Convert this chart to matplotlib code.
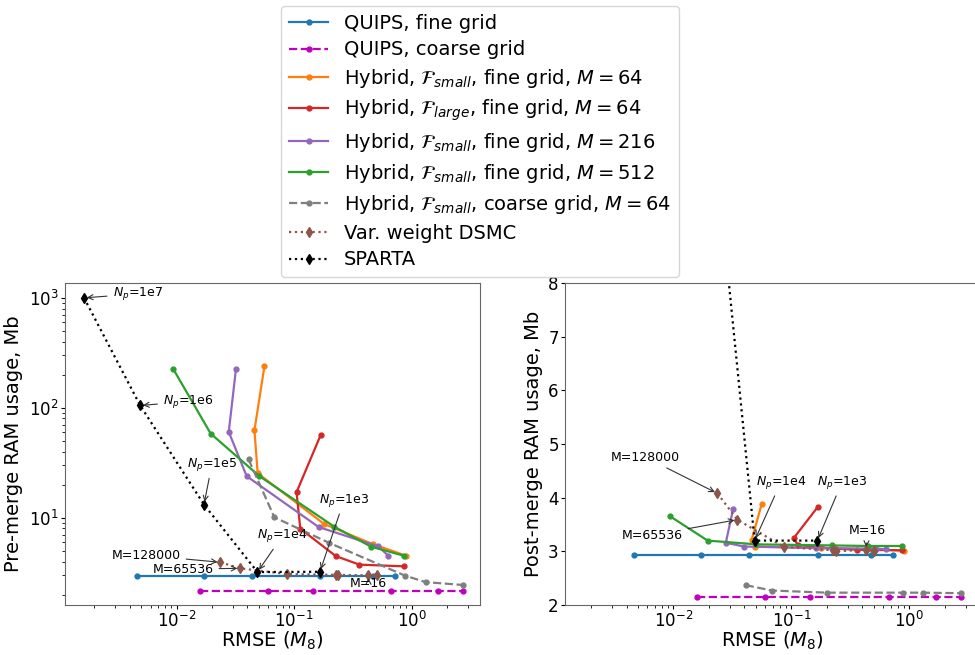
import matplotlib
matplotlib.use("Agg")
import matplotlib.pyplot as plt
import numpy as np

# ---------------- data ----------------
quips_fine_x = [0.0046, 0.0172, 0.0435, 0.167, 0.47, 0.726]
quips_fine_pre = [2.94, 2.94, 2.94, 2.94, 2.94, 2.94]
quips_fine_post = [2.93, 2.93, 2.93, 2.93, 2.93, 2.93]

quips_coarse_x = [0.0157, 0.060, 0.144, 0.67, 1.69, 2.74]
quips_coarse_pre = [2.17, 2.17, 2.17, 2.17, 2.17, 2.17]
quips_coarse_post = [2.15, 2.15, 2.15, 2.15, 2.15, 2.15]

hyb_s64_x = [0.056, 0.046, 0.049, 0.18, 0.47, 0.90]
hyb_s64_pre = [240, 62.5, 25.4, 8.8, 5.75, 4.52]
hyb_s64_post = [3.88, 3.21, 3.09, 3.06, 3.04, 3.01]

hyb_l64_x = [0.168, 0.105, 0.113, 0.227, 0.36, 0.86]
hyb_l64_pre = [56.2, 17.1, 7.96, 4.48, 3.75, 3.62]
hyb_l64_post = [3.83, 3.25, 3.12, 3.05, 3.03, 3.02]

hyb_s216_x = [0.032, 0.0278, 0.0395, 0.162, 0.52, 0.635]
hyb_s216_pre = [224, 60.4, 23.9, 8.24, 5.5, 4.52]
hyb_s216_post = [3.78, 3.16, 3.09, 3.06, 3.05, 3.04]

hyb_s512_x = [0.0094, 0.0195, 0.0505, 0.22, 0.45, 0.86]
hyb_s512_pre = [224, 58.3, 24.0, 8.3, 5.48, 4.52]
hyb_s512_post = [3.65, 3.20, 3.13, 3.11, 3.10, 3.10]

hyb_coarse_x = [0.041, 0.068, 0.20, 0.88, 1.32, 2.74]
hyb_coarse_pre = [34, 10.1, 5.9, 2.98, 2.6, 2.45]
hyb_coarse_post = [2.37, 2.27, 2.23, 2.23, 2.23, 2.22]

dsmc_x = [0.0236, 0.0348, 0.087, 0.226, 0.238, 0.43, 0.507]
dsmc_pre = [3.94, 3.47, 3.08, 3.03, 3.02, 3.0, 3.0]
dsmc_post = [4.08, 3.59, 3.08, 3.02, 3.0, 3.03, 3.0]

sparta_x = [0.00163, 0.0049, 0.0171, 0.0488, 0.166]
sparta_pre = [1000, 105, 13.2, 3.21, 3.23]
sparta_post = [1000, 105, 13.2, 3.2, 3.2]

labels = [
    "QUIPS, fine grid",
    "QUIPS, coarse grid",
    r"Hybrid, $\mathcal{F}_{small}$, fine grid, $M=64$",
    r"Hybrid, $\mathcal{F}_{large}$, fine grid, $M=64$",
    r"Hybrid, $\mathcal{F}_{small}$, fine grid, $M=216$",
    r"Hybrid, $\mathcal{F}_{small}$, fine grid, $M=512$",
    r"Hybrid, $\mathcal{F}_{small}$, coarse grid, $M=64$",
    "Var. weight DSMC",
    "SPARTA",
]

# annotations: (text, annotated point, text position)
left_notes = [
    (r"$N_p$=1e7", (sparta_x[0], sparta_pre[0]), (0.00466, 1086)),
    (r"$N_p$=1e6", (sparta_x[1], sparta_pre[1]), (0.01254, 114)),
    (r"$N_p$=1e5", (sparta_x[2], sparta_pre[2]), (0.0200, 30.6)),
    (r"$N_p$=1e4", (sparta_x[3], sparta_pre[3]), (0.0798, 6.88)),
    (r"$N_p$=1e3", (sparta_x[4], sparta_pre[4]), (0.2666, 14.5)),
    ("M=128000", (dsmc_x[0], dsmc_pre[0]), (0.0055, 4.55)),
    ("M=65536", (dsmc_x[1], dsmc_pre[1]), (0.01135, 3.42)),
    ("M=16", (dsmc_x[5], dsmc_pre[5]), (0.43, 2.51)),
]
right_notes = [
    ("M=128000", (dsmc_x[0], dsmc_post[0]), (0.00582, 4.75)),
    ("M=65536", (dsmc_x[1], dsmc_post[1]), (0.00659, 3.30)),
    (r"$N_p$=1e4", (sparta_x[3], sparta_post[3]), (0.0815, 4.29)),
    (r"$N_p$=1e3", (sparta_x[4], sparta_post[4]), (0.269, 4.29)),
    ("M=16", (dsmc_x[5], dsmc_post[5]), (0.4376, 3.38)),
]

fig = plt.figure(figsize=(9.75, 6.55), dpi=100)
axL = fig.add_axes([65 / 975, 50 / 655, 415 / 975, 322 / 655])
axR = fig.add_axes([565 / 975, 50 / 655, 415 / 975, 322 / 655])

def draw(ax, which):
    pre = which == "pre"
    series = [
        (quips_fine_x, quips_fine_pre if pre else quips_fine_post, dict(color="#1f77b4", ls="-", marker=".")),
        (quips_coarse_x, quips_coarse_pre if pre else quips_coarse_post, dict(color="m", ls="--", marker=".")),
        (hyb_s64_x, hyb_s64_pre if pre else hyb_s64_post, dict(color="#ff7f0e", ls="-", marker=".")),
        (hyb_l64_x, hyb_l64_pre if pre else hyb_l64_post, dict(color="#d62728", ls="-", marker=".")),
        (hyb_s216_x, hyb_s216_pre if pre else hyb_s216_post, dict(color="#9467bd", ls="-", marker=".")),
        (hyb_s512_x, hyb_s512_pre if pre else hyb_s512_post, dict(color="#2ca02c", ls="-", marker=".")),
        (hyb_coarse_x, hyb_coarse_pre if pre else hyb_coarse_post, dict(color="#7f7f7f", ls="--", marker=".")),
        (dsmc_x, dsmc_pre if pre else dsmc_post, dict(color="#8c564b", ls=":", marker="d", ms=5)),
        (sparta_x, sparta_pre if pre else sparta_post, dict(color="k", ls=":", marker="d", ms=5)),
    ]
    handles = []
    for (x, y, kw), lab in zip(series, labels):
        kw.setdefault("ms", 7)
        h, = ax.plot(x, y, label=lab, lw=1.6, **kw)
        handles.append(h)
    ax.set_xscale("log")
    return handles

handles = draw(axL, "pre")
draw(axR, "post")

axL.set_yscale("log")
axL.set_xlim(10 ** -2.95, 10 ** 0.583)
axL.set_ylim(10 ** 0.207, 10 ** 3.135)
axR.set_xlim(10 ** -2.92, 10 ** 0.6)
axR.set_ylim(2, 8)

for ax in (axL, axR):
    ax.set_xlabel(r"RMSE ($M_8$)", fontsize=14, labelpad=-1)
    ax.tick_params(labelsize=12, pad=1.5, length=3)
    ax.tick_params(which="minor", length=2)
    for s in ax.spines.values():
        s.set_color("0.4")
axL.set_ylabel("Pre-merge RAM usage, Mb", fontsize=14)
axR.set_ylabel("Post-merge RAM usage, Mb", fontsize=14)

arrow = dict(arrowstyle="->", color="0.2", lw=0.8)
for ax, notes in ((axL, left_notes), (axR, right_notes)):
    for txt, xy, xyt in notes:
        ax.annotate(txt, xy=xy, xytext=xyt, fontsize=9, ha="center", va="center",
                    arrowprops=arrow)

fig.legend(handles=handles, loc="upper center", bbox_to_anchor=(480 / 975, 0.997),
           fontsize=14, labelspacing=0.4, handlelength=2.0, borderaxespad=0.2)

fig.savefig("out.png", dpi=100)
